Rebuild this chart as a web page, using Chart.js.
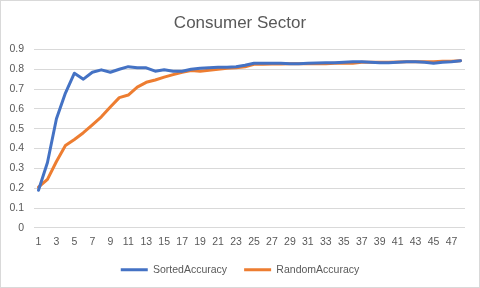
<!DOCTYPE html>
<html>
<head>
<meta charset="utf-8">
<script src="https://cdn.jsdelivr.net/npm/chart.js@4/dist/chart.umd.min.js"></script>
<style>
  html, body { margin: 0; padding: 0; background: #fff; }
  #wrap { position: relative; width: 478px; height: 286px; border: 1px solid #d9d9d9; }
</style>
</head>
<body>
<div id="wrap"><canvas id="chart"></canvas></div>
<script>
var CATEGORIES = [];
for (var i = 1; i <= 48; i++) CATEGORIES.push(String(i));

var SORTED_ACCURACY = [0.19, 0.33, 0.55, 0.68, 0.78, 0.75, 0.785, 0.797, 0.785, 0.80,
    0.813, 0.807, 0.807, 0.79, 0.797, 0.79, 0.79, 0.80, 0.805, 0.807,
    0.81, 0.81, 0.813, 0.82, 0.83, 0.83, 0.83, 0.83, 0.828, 0.828,
    0.83, 0.832, 0.833, 0.833, 0.835, 0.838, 0.838, 0.835, 0.833, 0.833,
    0.835, 0.838, 0.838, 0.835, 0.83, 0.835, 0.838, 0.843];

var RANDOM_ACCURACY = [0.205, 0.245, 0.335, 0.415, 0.446, 0.48, 0.52, 0.56, 0.61, 0.657,
    0.67, 0.71, 0.734, 0.746, 0.76, 0.773, 0.785, 0.793, 0.79, 0.795,
    0.80, 0.805, 0.807, 0.812, 0.825, 0.825, 0.827, 0.827, 0.828, 0.828,
    0.828, 0.828, 0.828, 0.83, 0.83, 0.83, 0.835, 0.835, 0.835, 0.835,
    0.837, 0.838, 0.838, 0.838, 0.838, 0.84, 0.84, 0.843];

var SERIES_NAMES = ["SortedAccuracy", "RandomAccuracy"];
var SERIES_COLORS = ['#4472c4', '#ed7d31'];

var FONT = "'Liberation Sans', Arial, sans-serif";
var TEXT_COLOR = '#595959';

new Chart(document.getElementById('chart'), {
    type: 'line',
    data: {
        labels: CATEGORIES,
        datasets: [SORTED_ACCURACY, RANDOM_ACCURACY].map(function (values, idx) {
            return {
                label: SERIES_NAMES[idx],
                data: values,
                borderColor: SERIES_COLORS[idx],
                backgroundColor: SERIES_COLORS[idx],
                borderWidth: 3,
                borderCapStyle: 'round',
                borderJoinStyle: 'round',
                pointRadius: 0,
                tension: 0
            };
        })
    },
    options: {
        responsive: true,
        maintainAspectRatio: false,
        animation: false,
        layout: { padding: { left: 0, right: 0, top: 4, bottom: 2 } },
        scales: {
            x: {
                offset: true,
                grid: { display: false },
                border: { display: false },
                afterFit: function (scale) { scale.height -= 1; },
                ticks: {
                    autoSkip: false,
                    maxRotation: 0,
                    padding: 0,
                    color: TEXT_COLOR,
                    font: { family: FONT, size: 10.5 },
                    callback: function (value, index) {
                        return index % 2 === 0 ? this.getLabelForValue(value) : '';
                    }
                }
            },
            y: {
                min: 0,
                max: 0.9,
                grid: { color: '#d9d9d9', drawTicks: false },
                border: { display: false },
                afterFit: function (scale) { scale.width = 33; },
                ticks: {
                    stepSize: 0.1,
                    padding: 10,
                    color: TEXT_COLOR,
                    font: { family: FONT, size: 10.5 },
                    callback: function (value) {
                        return Math.round(value * 10) / 10;
                    }
                }
            },
            // empty right-hand axis only to leave Excel's right margin
            yRight: {
                position: 'right',
                grid: { display: false },
                border: { display: false },
                ticks: { display: false },
                afterFit: function (scale) { scale.width = 14; }
            }
        },
        plugins: {
            title: {
                display: true,
                text: 'Consumer Sector',
                color: TEXT_COLOR,
                font: { family: FONT, size: 17, weight: 'normal' },
                padding: { top: 8, bottom: 16 }
            },
            legend: {
                position: 'bottom',
                labels: {
                    color: TEXT_COLOR,
                    font: { family: FONT, size: 10.5 },
                    boxWidth: 27,
                    boxHeight: 3,
                    padding: 17,
                    generateLabels: function (chart) {
                        var items = Chart.defaults.plugins.legend.labels.generateLabels(chart);
                        items.forEach(function (it) { it.lineWidth = 0; });
                        return items;
                    }
                }
            },
            tooltip: { enabled: false }
        }
    }
});
</script>
</body>
</html>
